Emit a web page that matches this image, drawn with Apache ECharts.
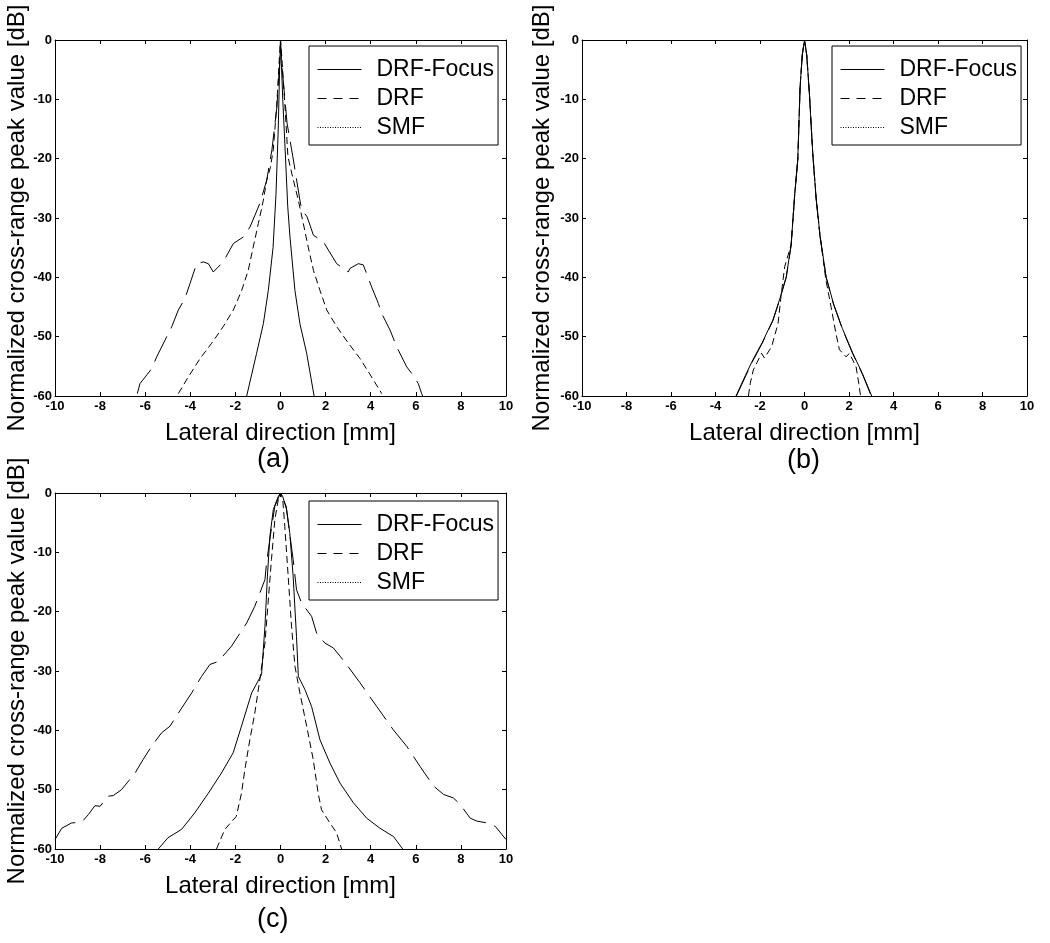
<!DOCTYPE html>
<html>
<head>
<meta charset="utf-8">
<script src="https://cdn.jsdelivr.net/npm/echarts@6/dist/echarts.min.js"></script>
<style>
html,body{margin:0;padding:0;background:#fff;}
#c{width:1050px;height:943px;}
</style>
</head>
<body>
<div id="c"></div>
<script>
// ---------- tick labels / axes ----------
const xTicks = [-10, -8, -6, -4, -2, 0, 2, 4, 6, 8, 10];
const yTicks = [-60, -50, -40, -30, -20, -10, 0];
const seriesNames = ['DRF-Focus', 'DRF', 'SMF'];
const panelLabels = ['(a)', '(b)', '(c)'];
const xName = 'Lateral direction [mm]';
const yName = 'Normalized cross-range peak value [dB]';

// ---------- panel (a) ----------
const aFocusX = [-1.5, -1.06, -0.76, -0.54, -0.33, -0.2, -0.1, -0.04, 0, 0.04, 0.1, 0.2, 0.32, 0.42, 0.64, 0.86, 1.16, 1.49];
const aFocusY = [-60, -52.8, -47.8, -42.2, -35, -26, -15, -5, 0, -4, -10, -18, -28, -33.2, -42.2, -47.8, -52.8, -60];

const aDrfX = [-6.35, -6.23, -5.71, -5.49, -4.82, -4.53, -4.24, -4.01, -3.72, -3.42, -3.2, -2.98, -2.54, -2.09, -1.65, -1.35, -0.91, -0.61, -0.38, -0.16, -0.02, 0,
               0.02, 0.29, 0.55, 0.86, 0.94, 1.18, 1.46, 1.9, 2.49, 2.79, 3.0, 3.08, 3.45, 3.67, 4.04, 4.34, 4.49, 4.86, 5.15, 5.6, 5.82, 6.11, 6.26, 6.3];
const aDrfY = [-59.6, -57.9, -55.4, -53.4, -48.3, -45.5, -43.6, -41, -37.7, -37.4, -37.7, -39.1, -37.4, -34.3, -33.2, -31.5, -27.5, -23.6, -18.5, -11.3, -2.9, 0,
               -2.5, -14, -19.7, -27, -28.6, -29.8, -32.9, -34, -37.7, -38.5, -39.1, -38.5, -37.7, -37.9, -41.6, -44.4, -46.1, -48.9, -51.7, -55.1, -56.2, -57.9, -59.6, -60];

const aSmfX = [-4.53, -4.09, -3.57, -3.05, -2.54, -2.09, -1.72, -1.43, -1.21, -0.98, -0.76, -0.61, -0.45, -0.32, -0.17, -0.05, 0,
               0.06, 0.2, 0.33, 0.57, 0.79, 1.01, 1.23, 1.46, 1.75, 2.05, 2.49, 3.01, 3.53, 4.04, 4.49];
const aSmfY = [-59.6, -56.8, -53.7, -51.1, -48.3, -45.5, -42.2, -38.8, -34.9, -30.9, -27, -23.6, -21.5, -18.5, -11.2, -3, 0,
               -3, -11.3, -19.7, -23.6, -27, -30.9, -34.9, -38.8, -42.2, -45.5, -48.3, -51.1, -53.7, -56.8, -59.6];

// ---------- panel (b) ----------
const bFocusX = [-3.08, -2.65, -2.32, -1.9, -1.42, -1.1, -0.82, -0.6, -0.44, -0.3, -0.2, -0.1, 0, 0.1, 0.22, 0.37, 0.52, 0.7, 0.97, 1.3, 1.7, 2.17, 2.6, 3.02];
const bFocusY = [-60, -56.5, -53.9, -51, -47.2, -43.5, -39.9, -34.5, -26, -20, -8, -2.5, 0, -2.5, -9, -19, -26.5, -33, -39.9, -44.4, -48.6, -52.8, -56.2, -60];

const bDrfX = [-3.06, -2.64, -2.31, -1.9, -1.42, -1.1, -0.82, -0.6, -0.44, -0.3, -0.2, -0.1, 0, 0.1, 0.22, 0.37, 0.52, 0.7, 0.97, 1.3, 1.7, 2.17, 2.6, 3.0];
const bDrfY = [-60, -56.6, -54, -51.1, -47.3, -43.6, -40, -34.6, -26.2, -20.2, -8.2, -2.6, 0, -2.6, -9.1, -19.2, -26.7, -33.2, -40, -44.5, -48.7, -52.9, -56.3, -60];

const bSmfX = [-2.52, -2.44, -2.3, -1.93, -1.8, -1.48, -1.19, -1.04, -0.89, -0.6, -0.44, -0.3, -0.2, -0.1, 0,
               0.1, 0.22, 0.37, 0.52, 0.7, 0.96, 1.19, 1.41, 1.57, 1.87, 2.02, 2.32, 2.44, 2.52];
const bSmfY = [-60, -57.9, -55.6, -52.8, -53.6, -51.7, -47.8, -42.7, -38.2, -34.5, -26, -20, -8, -2.5, 0,
               -2.5, -9, -19, -26.5, -33, -40.4, -44.9, -49.4, -52.2, -53.4, -52.8, -55.1, -57.9, -60];

// ---------- panel (c) ----------
const cFocusX = [-5.42, -4.99, -4.39, -3.8, -3.2, -2.62, -2.1, -1.73, -1.28, -0.84, -0.69, -0.58, -0.47, -0.32, -0.1, 0,
                 0.1, 0.27, 0.41, 0.56, 0.71, 0.79, 1.08, 1.38, 1.75, 2.19, 2.64, 3.23, 3.82, 4.41, 5.01, 5.42];
const cFocusY = [-60, -58.1, -56.7, -53.9, -50.6, -47.2, -43.8, -39.3, -33.7, -30.6, -22.5, -14, -7.3, -2.8, -0.6, 0,
                 -0.6, -2.8, -6.7, -14, -24.2, -30.9, -33.1, -36, -41.6, -45.5, -48.9, -52.2, -54.8, -56.5, -57.9, -60];

const cDrfX = [-10, -9.7, -9.26, -8.82, -8.52, -8.23, -8.0, -7.64, -7.42, -7.05, -6.45, -6.09, -5.72, -5.27, -4.9, -4.53, -3.94, -3.5, -3.13, -2.76, -2.17, -1.5, -1.14, -0.69, -0.62, -0.43, -0.25, 0,
               0.25, 0.56, 0.71, 0.93, 1.38, 1.6, 1.97, 2.34, 2.64, 2.93, 3.53, 4.27, 5.0, 5.6, 6.19, 6.79, 7.23, 7.67, 7.97, 8.41, 8.71, 9.16, 9.53, 10];
const cDrfY = [-58.4, -56.5, -55.6, -55.5, -54.2, -52.7, -52.8, -51.1, -51, -50, -47.2, -44.9, -42.7, -40.4, -39.3, -37.1, -33.7, -30.9, -28.9, -28.4, -25.8, -21.9, -19.1, -14.6, -11.8, -6.7, -2.2, 0,
               -2.2, -11.2, -16.3, -18.5, -20.8, -23.6, -25.3, -26.1, -27.5, -28.9, -32, -36, -39.9, -42.7, -46.1, -49.4, -50.8, -51.4, -52.5, -54.8, -55.3, -55.6, -56.2, -58.4];

const cSmfX = [-2.84, -2.47, -1.96, -1.73, -1.58, -1.36, -1.14, -0.92, -0.69, -0.55, -0.4, -0.25, -0.1, 0,
               0.1, 0.19, 0.34, 0.49, 0.64, 0.86, 1.16, 1.45, 1.67, 1.82, 2.19, 2.49, 2.71];
const cSmfY = [-60, -56.7, -54.5, -50.6, -46.6, -41.6, -37.1, -31.5, -25.3, -18.5, -11.2, -4.5, -1.1, 0,
               -1.1, -5.6, -14, -22.5, -29.2, -33.7, -39.3, -44.9, -50.6, -53.4, -55.6, -57.3, -60];

// ---------- build ----------
const FONT = '"Liberation Sans", Arial, Helvetica, sans-serif';
const panels = [
  { grid: { left: 55, top: 40, width: 451, height: 356 }, yGap: 22, legend: { left: 309, top: 46 }, label: [277, 462],
    sets: [[aFocusX, aFocusY], [aDrfX, aDrfY], [aSmfX, aSmfY]] },
  { grid: { left: 582, top: 40, width: 445, height: 356 }, yGap: 28, legend: { left: 832, top: 46 }, label: [807, 463],
    sets: [[bFocusX, bFocusY], [bDrfX, bDrfY], [bSmfX, bSmfY]] },
  { grid: { left: 55, top: 493, width: 451, height: 356 }, yGap: 22, legend: { left: 309, top: 501 }, label: [277, 922],
    sets: [[cFocusX, cFocusY], [cDrfX, cDrfY], [cSmfX, cSmfY]] }
];
const plotDash = ['solid', [28, 9], [7, 4]];
const legendDash = ['solid', [9, 7], [1, 1.5]];

const xMin = xTicks[0], xMax = xTicks[xTicks.length - 1], xStep = xTicks[1] - xTicks[0];
const yMin = yTicks[0], yMax = yTicks[yTicks.length - 1], yStep = yTicks[1] - yTicks[0];

const axisLine = { show: true, onZero: false, lineStyle: { color: '#000', width: 1 } };
const axisTick = { show: true, inside: true, length: 4, lineStyle: { color: '#000', width: 1 } };
const labelStyle = { color: '#000', fontSize: 13, fontWeight: 'bold', fontFamily: FONT };
const nameStyle = { color: '#000', fontSize: 24, fontFamily: FONT };

const grids = [], xAxes = [], yAxes = [], series = [], legends = [], graphics = [];
panels.forEach((p, i) => {
  grids.push(Object.assign({ containLabel: false }, p.grid));
  xAxes.push({ type: 'value', gridIndex: i, position: 'bottom', min: xMin, max: xMax, interval: xStep,
    axisLine, axisTick, splitLine: { show: false },
    axisLabel: Object.assign({ margin: 4 }, labelStyle),
    name: xName, nameLocation: 'middle', nameGap: 25, nameTextStyle: nameStyle });
  xAxes.push({ type: 'value', gridIndex: i, position: 'top', min: xMin, max: xMax, interval: xStep,
    axisLine, axisTick, splitLine: { show: false }, axisLabel: { show: false } });
  yAxes.push({ type: 'value', gridIndex: i, position: 'left', min: yMin, max: yMax, interval: yStep,
    axisLine, axisTick, splitLine: { show: false },
    axisLabel: Object.assign({ margin: 3 }, labelStyle),
    name: yName, nameLocation: 'middle', nameGap: p.yGap, nameRotate: 90, nameTextStyle: nameStyle });
  yAxes.push({ type: 'value', gridIndex: i, position: 'right', min: yMin, max: yMax, interval: yStep,
    axisLine, axisTick, splitLine: { show: false }, axisLabel: { show: false } });

  p.sets.forEach((s, k) => {
    series.push({
      type: 'line', name: seriesNames[k], xAxisIndex: 2 * i, yAxisIndex: 2 * i,
      data: s[0].map((x, j) => [x, s[1][j]]),
      symbol: 'none', showSymbol: false, smooth: false, clip: true, silent: true,
      lineStyle: { color: '#000', width: 1, type: plotDash[k] },
      itemStyle: { color: '#000' },
      emphasis: { disabled: true }
    });
  });

  legends.push({
    left: p.legend.left, top: p.legend.top, orient: 'vertical',
    data: seriesNames.map((n, k) => ({ name: n,
      lineStyle: { color: '#000', width: 1, type: legendDash[k] },
      itemStyle: { opacity: 0, borderWidth: 0 } })),
    itemWidth: 44, itemHeight: 14, itemGap: 6,
    padding: [12, 4, 6, 8],
    borderColor: '#000', borderWidth: 1, backgroundColor: '#fff', borderRadius: 0,
    selectedMode: false,
    itemStyle: { opacity: 0, borderWidth: 0 },
    textStyle: { color: '#000', fontSize: 23, fontFamily: FONT, lineHeight: 22, padding: [0, 0, 0, 10] }
  });

  graphics.push({ type: 'text', left: p.label[0] - 20, top: p.label[1] - 16,
    style: { text: panelLabels[i], fill: '#000', font: '27px ' + FONT, width: 40, align: 'center' } });
});

const chart = echarts.init(document.getElementById('c'), null, { renderer: 'canvas' });
chart.setOption({
  animation: false,
  backgroundColor: '#fff',
  grid: grids, xAxis: xAxes, yAxis: yAxes, series, legend: legends,
  graphic: graphics
});
</script>
</body>
</html>
